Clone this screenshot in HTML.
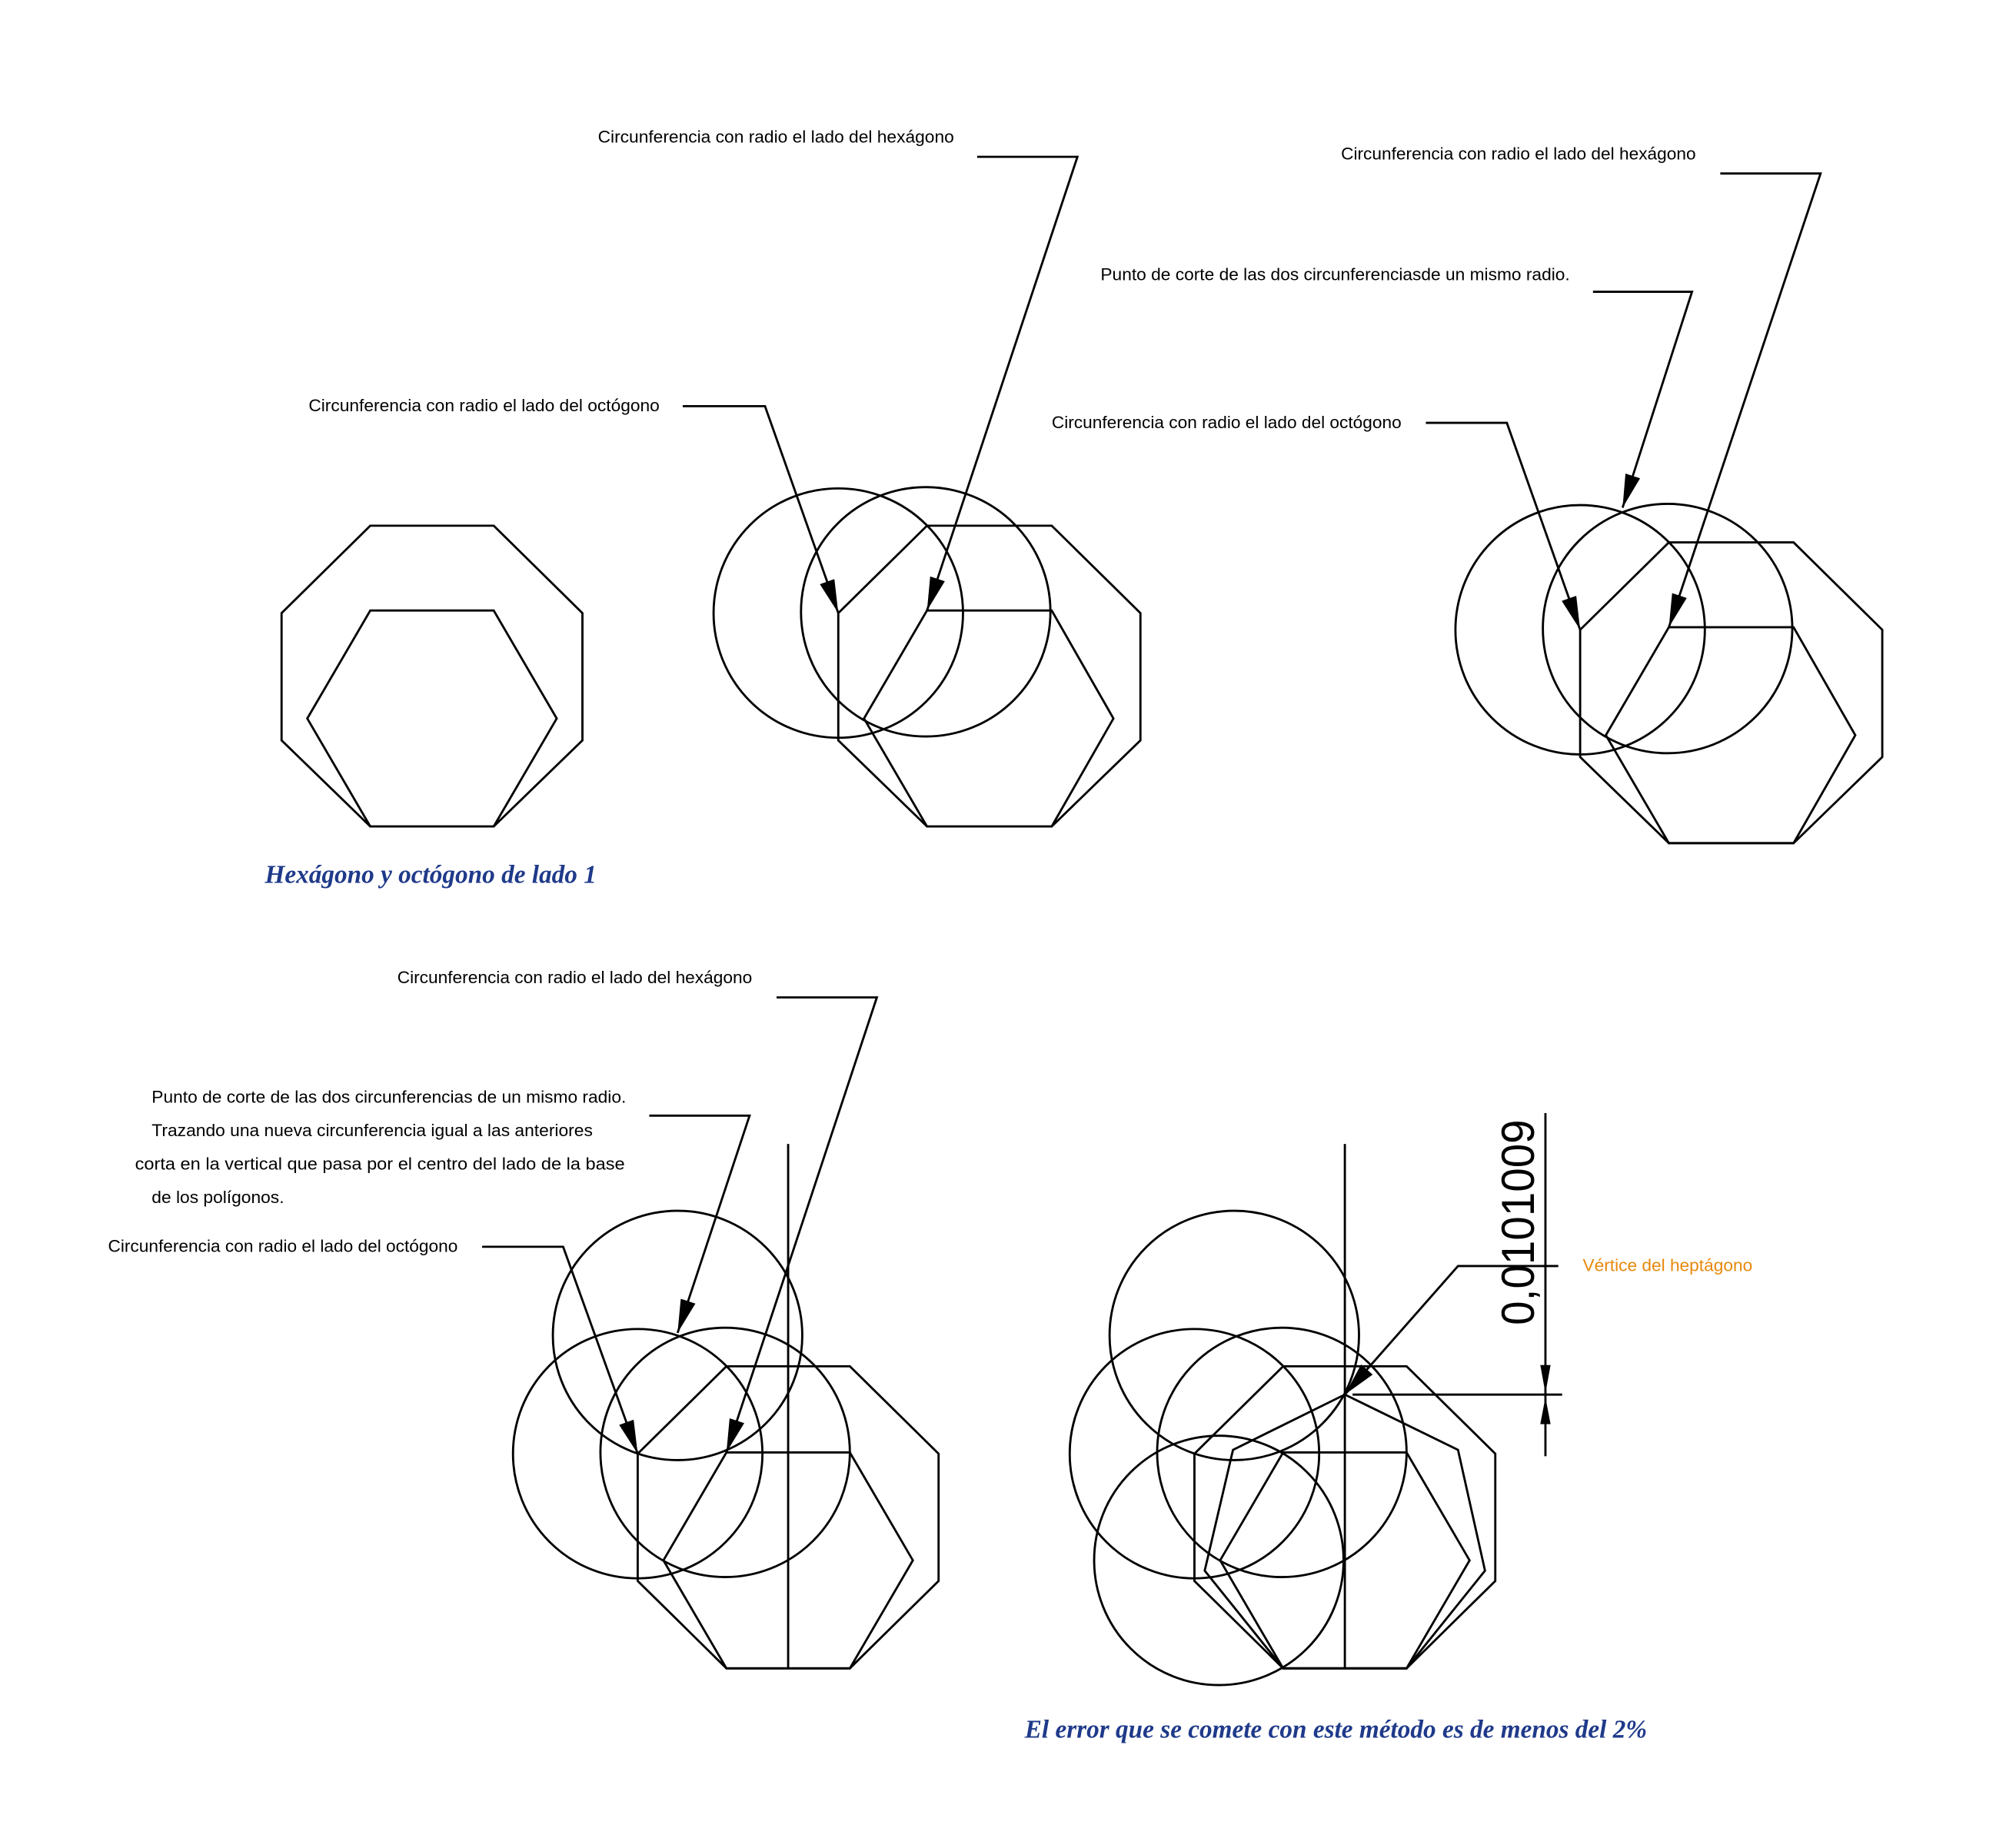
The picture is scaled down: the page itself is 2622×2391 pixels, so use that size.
<!DOCTYPE html>
<html><head><meta charset="utf-8"><style>html,body{margin:0;padding:0;background:#fff}svg{display:block}</style></head>
<body>
<svg width="2622" height="2391" viewBox="0 0 1568 1430" preserveAspectRatio="none" xmlns="http://www.w3.org/2000/svg">
<defs>
<marker id="a" viewBox="0 0 26 12" refX="26" refY="6" markerWidth="26" markerHeight="12" markerUnits="userSpaceOnUse" orient="auto"><path d="M0,0 L26,6 L0,12 z" fill="#000"/></marker>
</defs>
<g fill="none" stroke="#000" stroke-width="1.7">
<!-- fig1 -->
<polygon points="288,409 384,409 453,477 453,576 384,643 288,643 219,576 219,477"/>
<polygon points="288,475 384,475 433,559 384,643 288,643 239,559"/>
<!-- fig2 -->
<polygon points="721,409 818,409 887,477 887,576 818,643 721,643 652,576 652,477"/>
<polygon points="721,475 818,475 866,559 818,643 721,643 672,559"/>
<circle cx="652" cy="477" r="97"/><circle cx="720" cy="476" r="97"/>
<polyline points="760,122 838,122 721,475" marker-end="url(#a)"/>
<polyline points="531,316 595,316 652,477" marker-end="url(#a)"/>
<!-- fig3 -->
<polygon points="1298,422 1395,422 1464,490 1464,589 1395,656 1298,656 1229,589 1229,490"/>
<polygon points="1298,488 1395,488 1443,572 1395,656 1298,656 1249,572"/>
<circle cx="1229" cy="490" r="97"/><circle cx="1297" cy="489" r="97"/>
<polyline points="1338,135 1416,135 1298,488" marker-end="url(#a)"/>
<polyline points="1239,227 1316,227 1262,395" marker-end="url(#a)"/>
<polyline points="1109,329 1172,329 1229,490" marker-end="url(#a)"/>
<!-- fig4 -->
<polygon points="565,1063 661,1063 730,1131 730,1230 661,1298 565,1298 496,1230 496,1131"/>
<polygon points="565,1130 661,1130 710,1214 661,1298 565,1298 516,1214"/>
<circle cx="496" cy="1131" r="97"/><circle cx="564" cy="1130" r="97"/><circle cx="527" cy="1039" r="97"/>
<line x1="613" y1="890" x2="613" y2="1298"/>
<polyline points="604,776 682,776 565,1130" marker-end="url(#a)"/>
<polyline points="505,868 583,868 527,1037" marker-end="url(#a)"/>
<polyline points="375,970 438,970 496,1131" marker-end="url(#a)"/>
<!-- fig5 -->
<polygon points="998,1063 1094,1063 1163,1131 1163,1230 1094,1298 998,1298 929,1230 929,1131"/>
<polygon points="998,1130 1094,1130 1143,1214 1094,1298 998,1298 949,1214"/>
<polygon points="998,1298 1094,1298 1155,1222 1134,1128 1046,1085 959,1128 937,1222"/>
<circle cx="929" cy="1131" r="97"/><circle cx="997" cy="1130" r="97"/><circle cx="960" cy="1039" r="97"/><circle cx="948" cy="1214" r="97"/>
<line x1="1046" y1="890" x2="1046" y2="1298"/>
<line x1="1052" y1="1085" x2="1215" y2="1085"/>
<line x1="1202" y1="866" x2="1202" y2="1133"/>
<polyline points="1212,985 1134,985 1046,1085" marker-end="url(#a)"/>
</g>
<path d="M1202,1084 L1198,1062 L1206,1062 z M1202,1087 L1198,1108 L1206,1108 z" fill="#000"/>
<g font-family="Liberation Sans, Arial, sans-serif" font-size="13.5" fill="#000">
<text x="465" y="111" textLength="277" lengthAdjust="spacingAndGlyphs">Circunferencia con radio el lado del hexágono</text>
<text x="240" y="320" textLength="273" lengthAdjust="spacingAndGlyphs">Circunferencia con radio el lado del octógono</text>
<text x="1043" y="124" textLength="276" lengthAdjust="spacingAndGlyphs">Circunferencia con radio el lado del hexágono</text>
<text x="856" y="218" textLength="365" lengthAdjust="spacingAndGlyphs">Punto de corte de las dos circunferenciasde un mismo radio.</text>
<text x="818" y="333" textLength="272" lengthAdjust="spacingAndGlyphs">Circunferencia con radio el lado del octógono</text>
<text x="309" y="765" textLength="276" lengthAdjust="spacingAndGlyphs">Circunferencia con radio el lado del hexágono</text>
<text x="118" y="858" textLength="369" lengthAdjust="spacingAndGlyphs">Punto de corte de las dos circunferencias de un mismo radio.</text>
<text x="118" y="884" textLength="343" lengthAdjust="spacingAndGlyphs">Trazando una nueva circunferencia igual a las anteriores</text>
<text x="105" y="910" textLength="381" lengthAdjust="spacingAndGlyphs">corta en la vertical que pasa por el centro del lado de la base</text>
<text x="118" y="936" textLength="103" lengthAdjust="spacingAndGlyphs">de los polígonos.</text>
<text x="84" y="974" textLength="272" lengthAdjust="spacingAndGlyphs">Circunferencia con radio el lado del octógono</text>
<text x="1231" y="989" fill="#e8890c" textLength="132" lengthAdjust="spacingAndGlyphs">Vértice del heptágono</text>
<text transform="translate(1193,1031) rotate(-90)" font-size="36" textLength="160" lengthAdjust="spacingAndGlyphs">0,0101009</text>
</g>
<g font-family="Liberation Serif, serif" font-weight="bold" font-style="italic" font-size="20" fill="#1f3a8a">
<text x="206" y="687" textLength="258" lengthAdjust="spacingAndGlyphs">Hexágono y octógono de lado 1</text>
<text x="797" y="1352" textLength="484" lengthAdjust="spacingAndGlyphs">El error que se comete con este método es de menos del 2%</text>
</g>
</svg>
</body></html>
